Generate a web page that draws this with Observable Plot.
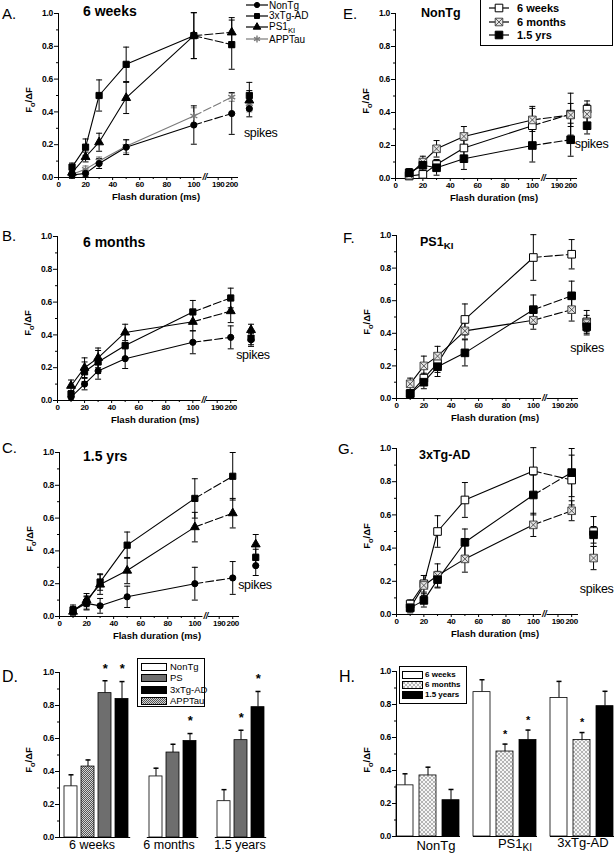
<!DOCTYPE html>
<html><head><meta charset="utf-8">
<script src="https://cdn.jsdelivr.net/npm/d3@7"></script>
<script src="https://cdn.jsdelivr.net/npm/@observablehq/plot@0.6"></script>
<style>
html,body{margin:0;padding:0;background:#fff;}
#fig{position:relative;width:614px;height:853px;overflow:hidden;background:#fff;font-family:"Liberation Sans",Arial,sans-serif;color:#000;}
.pl{position:absolute;}
.t{position:absolute;white-space:nowrap;line-height:1;}
.t sub{font-size:78%;vertical-align:-0.35em;line-height:0;}
.box{position:absolute;border:1px solid #000;background:#fff;box-sizing:border-box;}
</style></head><body>
<svg width="0" height="0" style="position:absolute">
<defs>
<pattern id="checkDark" width="2" height="2" patternUnits="userSpaceOnUse"><rect width="2" height="2" fill="#d4d4d4"/><rect width="1" height="1" fill="#555"/><rect x="1" y="1" width="1" height="1" fill="#555"/></pattern>
<pattern id="crossLight" width="4" height="4" patternUnits="userSpaceOnUse"><rect width="4" height="4" fill="#f6f6f6"/><path d="M0,0L4,4M4,0L0,4" stroke="#9a9a9a" stroke-width="0.7"/></pattern>
</defs></svg>
<div id="fig"></div>
<script>
// ================= DATA =================
const durations = [10, 20, 30, 50, 100, 200];
const xTickValues = [0, 20, 40, 60, 80, 100, 190, 200];
const xMinorTicks = [10, 30, 50, 70, 90];
const yTickValues = [0, 0.2, 0.4, 0.6, 0.8, 1.0];
const yMinorTicks = [0.1, 0.3, 0.5, 0.7, 0.9];

// 6 weeks
const nonTg6w     = [0.015, 0.025, 0.085, 0.185, 0.32, 0.39];
const nonTg6wErr  = [0.02, 0.02, 0.03, 0.045, 0.117, 0.127];
const tg3x6w      = [0.063, 0.185, 0.50, 0.69, 0.865, 0.81];
const tg3x6wErr   = [0.025, 0.05, 0.095, 0.105, 0.14, 0.15];
const ps1ki6w     = [0.03, 0.125, 0.215, 0.485, 0.865, 0.885];
const ps1ki6wErr  = [0.02, 0.03, 0.055, 0.095, 0.14, 0.09];
const appTau6w    = [0.02, 0.05, 0.10, 0.19, 0.375, 0.49];
const appTau6wErr = [0.015, 0.02, 0.025, 0.04, 0.05, 0.025];
// 6 months
const nonTg6m    = [0.02, 0.10, 0.18, 0.255, 0.355, 0.385];
const nonTg6mErr = [0.02, 0.035, 0.05, 0.06, 0.07, 0.07];
const tg3x6m     = [0.04, 0.175, 0.235, 0.335, 0.54, 0.625];
const tg3x6mErr  = [0.02, 0.06, 0.07, 0.08, 0.07, 0.06];
const ps1ki6m    = [0.09, 0.20, 0.26, 0.415, 0.48, 0.545];
const ps1ki6mErr = [0.035, 0.06, 0.06, 0.05, 0.055, 0.07];
// 1.5 years
const nonTg18m    = [0.035, 0.08, 0.065, 0.12, 0.20, 0.235];
const nonTg18mErr = [0.025, 0.04, 0.045, 0.065, 0.10, 0.10];
const tg3x18m     = [0.04, 0.085, 0.21, 0.435, 0.72, 0.855];
const tg3x18mErr  = [0.03, 0.04, 0.05, 0.08, 0.12, 0.145];
const ps1ki18m    = [0.03, 0.10, 0.195, 0.28, 0.545, 0.63];
const ps1ki18mErr = [0.02, 0.04, 0.06, 0.08, 0.09, 0.09];

// spikes per panel
const spikesA = [0.42, 0.50, 0.47, 0.45];   // NonTg, 3xTg-AD, PS1KI, APPTau
const spikesAErr = [0.05, 0.08, 0.06, 0.05];
const spikesB = [0.37, 0.38, 0.43];         // NonTg, 3xTg-AD, PS1KI
const spikesBErr = [0.04, 0.04, 0.035];
const spikesC = [0.31, 0.36, 0.44];
const spikesCErr = [0.06, 0.05, 0.06];
const spikesE = [0.42, 0.39, 0.32];         // 6 weeks, 6 months, 1.5 yrs
const spikesEErr = [0.05, 0.06, 0.05];
const spikesF = [0.47, 0.46, 0.44];
const spikesFErr = [0.07, 0.05, 0.05];
const spikesG = [0.50, 0.34, 0.48];
const spikesGErr = [0.09, 0.07, 0.05];

// panel D bars
const dGroups = ["6 weeks", "6 months", "1.5 years"];
const dGenotypes = ["NonTg", "APPTau", "PS", "3xTg-AD"];
const d6w = [0.31, 0.43, 0.875, 0.84];
const d6wErr = [0.07, 0.04, 0.075, 0.105];
const d6wSig = [0, 0, 1, 1];
const d6m = [0.37, null, 0.515, 0.585];
const d6mErr = [0.05, null, 0.05, 0.045];
const d6mSig = [0, 0, 0, 1];
const d18m = [0.22, null, 0.59, 0.79];
const d18mErr = [0.07, null, 0.06, 0.095];
const d18mSig = [0, 0, 1, 1];

// panel H bars
const hGenotypes = ["NonTg", "PS1KI", "3xTg-AD"];
const hAges = ["6 weeks", "6 months", "1.5 years"];
const hNonTg = [0.31, 0.37, 0.22];
const hNonTgErr = [0.07, 0.05, 0.065];
const hNonTgSig = [0, 0, 0];
const hPS1KI = [0.875, 0.515, 0.585];
const hPS1KIErr = [0.075, 0.045, 0.06];
const hPS1KISig = [0, 1, 1];
const h3xTg = [0.84, 0.585, 0.79];
const h3xTgErr = [0.10, 0.045, 0.09];
const h3xTgSig = [0, 1, 0];

// ================= LAYOUT / STYLE =================
const BREAK_FROM = 190, BREAK_AT = 118;   // broken time axis: 190 ms drawn at 118
const tx = d => d > 100 ? d - BREAK_FROM + BREAK_AT : d;
const X_END = 133;
const AXIS_GAP = [106, 110];
const tickLabel = new Map(xTickValues.map(v => [tx(v), String(v)]));

const FONT = '"Liberation Sans", Arial, sans-serif';
const plotStyle = {fontFamily: FONT, fontSize: "8.5px", fontWeight: "bold", letterSpacing: "-0.3px", background: "transparent", overflow: "visible", maxWidth: "none"};

const MARK = {
  circle:   {symbol: "circle", r: 3.1, fill: "#000", stroke: "#000"},
  square:   {symbol: "square", r: 3.5, fill: "#000", stroke: "#000"},
  triangle: {symbol: "triangle", r: 3.3, fill: "#000", stroke: "#000"},
  star:     {symbol: "asterisk", r: 3.8, fill: "none", stroke: "#7a7a7a", strokeWidth: 1.4},
  openSq:   {symbol: "square", r: 4.3, fill: "#fff", stroke: "#000", strokeWidth: 1},
  crossSq:  {symbol: "square", r: 4.3, fill: "#e4e4e4", stroke: "#3a3a3a", strokeWidth: 0.9, overlay: true},
  fillSq:   {symbol: "square", r: 4.3, fill: "#000", stroke: "#000"}
};
const cap = w => ({draw(ctx) { ctx.moveTo(-w, 0); ctx.lineTo(w, 0); }});

const fig = document.getElementById("fig");
function place(node, left, top) {
  const d = document.createElement("div");
  d.className = "pl"; d.style.left = left + "px"; d.style.top = top + "px";
  d.appendChild(node); fig.appendChild(d);
}
function T(html, x, y, o = {}) {
  const el = document.createElement("div");
  el.className = "t"; el.innerHTML = html;
  el.style.left = x + "px"; el.style.top = y + "px";
  el.style.fontSize = (o.size || 12) + "px";
  el.style.fontWeight = o.bold ? "bold" : "normal";
  let tr = o.anchor === "middle" ? "translate(-50%,-50%)" : "translate(0,-50%)";
  if (o.rotate) tr += ` rotate(${o.rotate}deg)`;
  el.style.transform = tr;
  fig.appendChild(el);
}

function markerMarks(rows, m) {
  const out = [Plot.dot(rows, {x: "t", y: "v", symbol: m.symbol, r: m.r, fill: m.fill, stroke: m.stroke, strokeWidth: m.strokeWidth ?? 1})];
  if (m.overlay) out.push(Plot.dot(rows, {x: "t", y: "v", symbol: "times", r: m.r * 0.8, stroke: "#3a3a3a", strokeWidth: 0.8}));
  return out;
}

function linePanel(L, series, spikeVals, spikeErrs) {
  const marks = [
    Plot.ruleY([0], {x1: 0, x2: AXIS_GAP[0], stroke: "#000", strokeWidth: 1}),
    Plot.ruleY([0], {x1: AXIS_GAP[1], x2: X_END, stroke: "#000", strokeWidth: 1}),
    Plot.ruleX([0], {stroke: "#000", strokeWidth: 1}),
    Plot.axisY(yTickValues, {tickSize: 4, tickPadding: 1.5, tickFormat: d3.format(".1f"), label: null}),
    Plot.axisY(yMinorTicks, {tickSize: 2, tickFormat: () => "", label: null}),
    Plot.axisX(xTickValues.map(tx), {tickSize: 3, tickPadding: 0.5, fontSize: 8, tickFormat: t => tickLabel.get(t), label: null}),
    Plot.axisX(xMinorTicks, {tickSize: 2, tickFormat: () => "", label: null}),
    Plot.text(["//"], {x: (AXIS_GAP[0] + AXIS_GAP[1]) / 2, y: 0, fontSize: 9, fontStyle: "italic", fontWeight: "bold"}),
    Plot.text(["spikes"], {x: L.spikeLabel[0], y: L.spikeLabel[1], textAnchor: "start", fontSize: 12.5, fontWeight: "normal"})
  ];
  const top = [];
  series.forEach((s, k) => {
    const rows = durations.map((d, i) => ({t: tx(d), v: s.mean[i], lo: s.mean[i] - s.err[i], hi: s.mean[i] + s.err[i]}));
    const sp = [{t: L.spikeT, v: spikeVals[k], lo: spikeVals[k] - spikeErrs[k], hi: spikeVals[k] + spikeErrs[k]}];
    const col = s.color || "#000";
    for (const R of [rows, sp]) {
      marks.push(Plot.ruleX(R, {x: "t", y1: "lo", y2: "hi", stroke: col, strokeWidth: 1}));
      marks.push(Plot.dot(R, {x: "t", y: "hi", symbol: cap(3), fill: "none", stroke: col, strokeWidth: 1}));
      marks.push(Plot.dot(R, {x: "t", y: "lo", symbol: cap(3), fill: "none", stroke: col, strokeWidth: 1}));
    }
    marks.push(Plot.line(rows.filter(r => r.t <= 100), {x: "t", y: "v", stroke: col, strokeWidth: 1.1}));
    marks.push(Plot.line(rows.filter(r => r.t >= 100), {x: "t", y: "v", stroke: col, strokeWidth: 1.1, strokeDasharray: "8,3"}));
    top.push(...markerMarks(rows, s.mark), ...markerMarks(sp, s.mark));
  });
  const plot = Plot.plot({
    width: L.ml + L.iw + L.mr, height: L.mt + L.ih + 16,
    marginLeft: L.ml, marginRight: L.mr, marginTop: L.mt, marginBottom: 16,
    x: {domain: [0, X_END]}, y: {domain: [0, 1]},
    style: plotStyle,
    marks: [...marks, ...top]
  });
  place(plot, L.left, L.top);
  const axisX = L.left + L.ml, y0 = L.top + L.mt + L.ih, y1 = L.top + L.mt;
  T("Flash duration (ms)", axisX + L.iw / 2 + 8, y0 + 20, {size: 9.5, bold: true, anchor: "middle"});
  T("F<sub>o</sub>/ΔF", axisX - 29, (y0 + y1) / 2 + 5, {size: 9.5, bold: true, anchor: "middle", rotate: -90});
}

// ---------- line panels ----------
const LA = {left: 0, top: 0, ml: 58, iw: 180, mr: 62, mt: 13, ih: 164, spikeT: 141, spikeLabel: [137, 0.27]};
const LB = {left: 0, top: 223, ml: 57, iw: 180, mr: 63, mt: 13, ih: 164, spikeT: 143, spikeLabel: [132, 0.28]};
const LC = {left: 0, top: 439, ml: 59, iw: 180, mr: 61, mt: 13, ih: 164, spikeT: 145, spikeLabel: [132, 0.195]};
const LE = {left: 337, top: 0, ml: 58, iw: 182, mr: 37, mt: 13, ih: 165, spikeT: 140, spikeLabel: [131, 0.21]};
const LF = {left: 338, top: 222, ml: 58, iw: 182, mr: 36, mt: 13, ih: 163, spikeT: 139, spikeLabel: [127, 0.31]};
const LG = {left: 338, top: 435, ml: 58, iw: 182, mr: 36, mt: 13, ih: 166, spikeT: 144, spikeLabel: [134, 0.155]};

linePanel(LA, [
  {mean: appTau6w, err: appTau6wErr, mark: MARK.star, color: "#7a7a7a"},
  {mean: nonTg6w, err: nonTg6wErr, mark: MARK.circle},
  {mean: ps1ki6w, err: ps1ki6wErr, mark: MARK.triangle},
  {mean: tg3x6w, err: tg3x6wErr, mark: MARK.square}
], [spikesA[3], spikesA[0], spikesA[2], spikesA[1]], [spikesAErr[3], spikesAErr[0], spikesAErr[2], spikesAErr[1]]);

linePanel(LB, [
  {mean: nonTg6m, err: nonTg6mErr, mark: MARK.circle},
  {mean: tg3x6m, err: tg3x6mErr, mark: MARK.square},
  {mean: ps1ki6m, err: ps1ki6mErr, mark: MARK.triangle}
], spikesB, spikesBErr);

linePanel(LC, [
  {mean: nonTg18m, err: nonTg18mErr, mark: MARK.circle},
  {mean: tg3x18m, err: tg3x18mErr, mark: MARK.square},
  {mean: ps1ki18m, err: ps1ki18mErr, mark: MARK.triangle}
], spikesC, spikesCErr);

linePanel(LE, [
  {mean: nonTg6w, err: nonTg6wErr, mark: MARK.openSq},
  {mean: nonTg6m, err: nonTg6mErr, mark: MARK.crossSq},
  {mean: nonTg18m, err: nonTg18mErr, mark: MARK.fillSq}
], spikesE, spikesEErr);

linePanel(LF, [
  {mean: ps1ki6w, err: ps1ki6wErr, mark: MARK.openSq},
  {mean: ps1ki6m, err: ps1ki6mErr, mark: MARK.crossSq},
  {mean: ps1ki18m, err: ps1ki18mErr, mark: MARK.fillSq}
], spikesF, spikesFErr);

linePanel(LG, [
  {mean: tg3x6w, err: tg3x6wErr, mark: MARK.openSq},
  {mean: tg3x6m, err: tg3x6mErr, mark: MARK.crossSq},
  {mean: tg3x18m, err: tg3x18mErr, mark: MARK.fillSq}
], spikesG, spikesGErr);

// ---------- panel D ----------
(function () {
  const means = [d6w, d6m, d18m], errs = [d6wErr, d6mErr, d18mErr], sigs = [d6wSig, d6mSig, d18mSig];
  const slots = [], rows = [];
  dGroups.forEach((g, gi) => {
    dGenotypes.forEach((gen, j) => {
      const m = means[gi][j];
      if (m == null) return;
      const slot = g + " / " + gen;
      slots.push(slot);
      rows.push({slot, genotype: gen, mean: m, hi: m + errs[gi][j], sig: !!sigs[gi][j], first: rows.length === 0});
    });
    if (gi < dGroups.length - 1) slots.push("gap" + gi);
  });
  const plot = Plot.plot({
    width: 300, height: 13 + 165 + 16, marginLeft: 59, marginRight: 30, marginTop: 13, marginBottom: 16,
    x: {domain: slots, range: [63, 266], paddingInner: 0.22, paddingOuter: 0, axis: null},
    y: {domain: [0, 1]},
    color: {domain: dGenotypes, range: ["#fff", "url(#checkDark)", "#6e6e6e", "#000"]},
    style: plotStyle,
    marks: [
      Plot.ruleX(rows, {x: "slot", y1: "mean", y2: "hi", stroke: "#000", strokeWidth: 1}),
      Plot.dot(rows, {x: "slot", y: "hi", symbol: cap(2.5), fill: "none", stroke: "#000"}),
      Plot.barY(rows, {x: "slot", y: "mean", fill: "genotype", stroke: "#000", strokeWidth: 0.8}),
      Plot.tickY(rows, {x: "slot", y: 0, insetLeft: -2.2, insetRight: -2.2, stroke: "#000"}),
      Plot.tickY(rows.filter(r => r.first), {x: "slot", y: 0, insetLeft: -5, stroke: "#000"}),
      Plot.text(rows.filter(r => r.sig), {x: "slot", y: r => r.hi + 0.075, text: () => "*", fontSize: 13, fontWeight: "bold"}),
      Plot.frame({anchor: "left", stroke: "#000"}),
      Plot.axisY(yTickValues, {tickSize: 4, tickPadding: 1.5, tickFormat: d3.format(".1f"), label: null}),
      Plot.axisY(yMinorTicks, {tickSize: 2, tickFormat: () => "", label: null})
    ]
  });
  place(plot, 0, 659);
  T("F<sub>o</sub>/ΔF", 29, 760, {size: 9.5, bold: true, anchor: "middle", rotate: -90});
  T("6 weeks", 92, 845, {size: 12.5, anchor: "middle"});
  T("6 months", 169, 845, {size: 12.5, anchor: "middle"});
  T("1.5 years", 240, 845, {size: 12.5, anchor: "middle"});
})();

// ---------- panel H ----------
(function () {
  const means = [hNonTg, hPS1KI, h3xTg], errs = [hNonTgErr, hPS1KIErr, h3xTgErr], sigs = [hNonTgSig, hPS1KISig, h3xTgSig];
  const rows = [];
  hGenotypes.forEach((g, gi) => hAges.forEach((a, j) => rows.push({genotype: g, age: a, mean: means[gi][j], hi: means[gi][j] + errs[gi][j], sig: !!sigs[gi][j]})));
  const plot = Plot.plot({
    width: 277, height: 13 + 165 + 17, marginLeft: 58, marginRight: 0, marginTop: 13, marginBottom: 17,
    fx: {domain: hGenotypes, paddingInner: 0.17, paddingOuter: 0, axis: null},
    x: {domain: hAges, paddingInner: 0.26, paddingOuter: 0, axis: null},
    y: {domain: [0, 1]},
    color: {domain: hAges, range: ["#fff", "url(#crossLight)", "#000"]},
    style: plotStyle,
    marks: [
      Plot.ruleX(rows, {fx: "genotype", x: "age", y1: "mean", y2: "hi", stroke: "#000", strokeWidth: 1}),
      Plot.dot(rows, {fx: "genotype", x: "age", y: "hi", symbol: cap(2.5), fill: "none", stroke: "#000"}),
      Plot.barY(rows, {fx: "genotype", x: "age", y: "mean", fill: "age", stroke: "#000", strokeWidth: 0.8}),
      Plot.ruleY([0], {stroke: "#000"}),
      Plot.text(rows.filter(r => r.sig), {fx: "genotype", x: "age", y: r => r.hi + 0.06, text: () => "*", fontSize: 11, fontWeight: "bold"}),
      Plot.frame({anchor: "left", stroke: "#000", facetAnchor: "left"}),
      Plot.axisY(yTickValues, {tickSize: 4, tickPadding: 1.5, tickFormat: d3.format(".1f"), label: null}),
      Plot.axisY(yMinorTicks, {tickSize: 2, tickFormat: () => "", label: null})
    ]
  });
  place(plot, 337, 658);
  T("F<sub>o</sub>/ΔF", 367, 760, {size: 9.5, bold: true, anchor: "middle", rotate: -90});
  T("NonTg", 436, 845, {size: 13, anchor: "middle"});
  T("PS1<sub>KI</sub>", 515, 843, {size: 13, anchor: "middle"});
  T("3xTg-AD", 583, 842, {size: 13, anchor: "middle"});
})();

// ---------- titles & panel letters ----------
T("A.", 2, 13, {size: 15});
T("B.", 2, 235, {size: 15});
T("C.", 2, 447, {size: 15});
T("D.", 2, 677, {size: 16});
T("E.", 343, 13, {size: 15});
T("F.", 343, 237, {size: 15});
T("G.", 338, 448, {size: 15});
T("H.", 339, 677, {size: 16});
T("6 weeks", 83, 11, {size: 14, bold: true});
T("6 months", 83, 242, {size: 14, bold: true});
T("1.5 yrs", 83, 456, {size: 14, bold: true});
T("NonTg", 421, 13, {size: 12.5, bold: true});
T("PS1<sub>KI</sub>", 420, 242, {size: 12.5, bold: true});
T("3xTg-AD", 419, 455, {size: 12.5, bold: true});

// ---------- legends ----------
const symMap = {circle: d3.symbolCircle, square: d3.symbolSquare, triangle: d3.symbolTriangle, asterisk: d3.symbolAsterisk, times: d3.symbolTimes};
function legendLine(x1, x2, y, m, lineColor) {
  const w = x2 - x1 + 12;
  const svg = d3.create("svg").attr("width", w).attr("height", 12)
    .style("position", "absolute").style("left", (x1 - 6) + "px").style("top", (y - 6) + "px").style("overflow", "visible");
  svg.append("line").attr("x1", 6).attr("x2", w - 6).attr("y1", 6).attr("y2", 6).attr("stroke", lineColor).attr("stroke-width", 1.2);
  svg.append("path").attr("transform", `translate(${w / 2},6)`).attr("d", d3.symbol(symMap[m.symbol], Math.PI * m.r * m.r)())
    .attr("fill", m.fill).attr("stroke", m.stroke).attr("stroke-width", m.strokeWidth ?? 1);
  if (m.overlay) svg.append("path").attr("transform", `translate(${w / 2},6)`).attr("d", d3.symbol(d3.symbolTimes, Math.PI * (m.r * 0.8) ** 2)())
    .attr("fill", "none").attr("stroke", "#3a3a3a").attr("stroke-width", 0.8);
  fig.appendChild(svg.node());
}
function swatch(x, y, w, h, fill) {
  const svg = d3.create("svg").attr("width", w).attr("height", h)
    .style("position", "absolute").style("left", x + "px").style("top", (y - h / 2) + "px").style("overflow", "visible");
  svg.append("rect").attr("x", 0.5).attr("y", 0.5).attr("width", w - 1).attr("height", h - 1).attr("fill", fill).attr("stroke", "#000").attr("stroke-width", 1);
  fig.appendChild(svg.node());
}

// legend A
const legA = {circle: {...MARK.circle, r: 2.6}, square: {...MARK.square, r: 2.8}, triangle: {...MARK.triangle, r: 2.8}, star: {...MARK.star, r: 3.2}};
legendLine(246, 268, 5, legA.circle, "#000");
legendLine(246, 268, 16, legA.square, "#000");
legendLine(246, 268, 26.5, legA.triangle, "#000");
legendLine(246, 268, 39, legA.star, "#7a7a7a");
T("NonTg", 269, 5.5, {size: 10});
T("3xTg-AD", 269, 16, {size: 10});
T("PS1<sub>KI</sub>", 269, 26.5, {size: 10});
T("APPTau", 269, 40, {size: 10});

// legend E
(function () {
  const b = document.createElement("div"); b.className = "box";
  Object.assign(b.style, {left: "480px", top: "-1px", width: "133px", height: "47px"});
  fig.appendChild(b);
  legendLine(489, 509, 8, MARK.openSq, "#000");
  legendLine(489, 509, 22, MARK.crossSq, "#000");
  legendLine(489, 509, 35, MARK.fillSq, "#000");
  T("6 weeks", 517, 8, {size: 11, bold: true});
  T("6 months", 517, 22, {size: 11, bold: true});
  T("1.5 yrs", 517, 35, {size: 11, bold: true});
})();

// legend D
(function () {
  const b = document.createElement("div"); b.className = "box";
  Object.assign(b.style, {left: "137px", top: "658px", width: "68px", height: "49px"});
  fig.appendChild(b);
  const items = [["NonTg", "#fff"], ["PS", "#6e6e6e"], ["3xTg-AD", "#000"], ["APPTau", "url(#checkDark)"]];
  const ys = [667, 678, 690, 701];
  items.forEach(([name, fill], i) => { swatch(141, ys[i], 26, 8, fill); T(name, 170, ys[i], {size: 9.5}); });
})();

// legend H
(function () {
  const b = document.createElement("div"); b.className = "box";
  Object.assign(b.style, {left: "399px", top: "666px", width: "68px", height: "38px"});
  fig.appendChild(b);
  const items = [["6 weeks", "#fff"], ["6 months", "url(#crossLight)"], ["1.5 years", "#000"]];
  const ys = [675, 685, 695];
  items.forEach(([name, fill], i) => { swatch(402, ys[i], 21, 8, fill); T(name, 425, ys[i], {size: 8, bold: true}); });
})();
</script></body></html>
